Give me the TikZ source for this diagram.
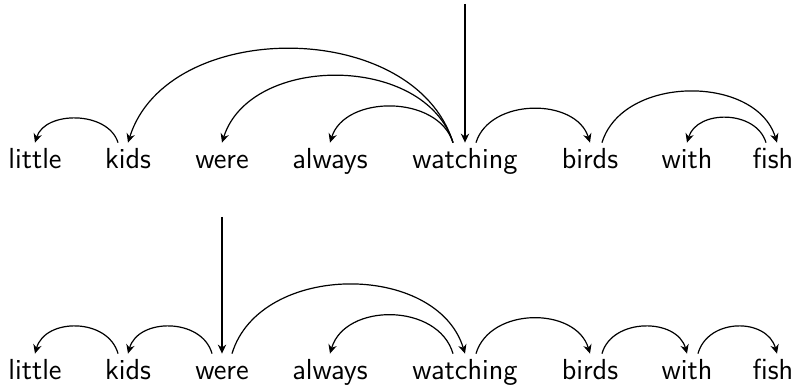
\documentclass[tikz,border=0pt]{standalone}
\usepackage{fontspec}
\usetikzlibrary{arrows.meta,calc}
\begin{document}
\begin{tikzpicture}[x=0.5pt,y=0.5pt,
  word/.style={font=\sffamily\fontsize{14.5}{17}\selectfont, anchor=base,
               inner sep=0pt, text height=13pt, text depth=3pt},
  dep/.style={line width=0.6pt, -{Stealth[length=4.5pt,width=4.2pt]}},
]
\useasboundingbox (0,0) rectangle (800,386);

% ---- upper parse ----
\node[word] (a1) at (35,217)  {little};
\node[word] (a2) at (128,217) {kids};
\node[word] (a3) at (222,217) {were};
\node[word] (a4) at (330,217) {always};
\node[word] (a5) at (465,217) {watching};
\node[word] (a6) at (590,217) {birds};
\node[word] (a7) at (687,217) {with};
\node[word] (a8) at (773,217) {fish};

\coordinate (aroot) at (465,382);
\draw[dep] (aroot) -- (a5.north);
\draw[dep] ($(a2.north)+(-10,0)$) .. controls +(-10,32) and +(10,32) .. (a1.north);
\draw[dep] ($(a5.north)+(-12,0)$) .. controls +(-39,125) and +(39,125) .. (a2.north);
\draw[dep] ($(a5.north)+(-12,0)$) .. controls +(-28,89) and +(28,89) .. (a3.north);
\draw[dep] ($(a5.north)+(-12,0)$) .. controls +(-15,48) and +(15,48) .. (a4.north);
\draw[dep] ($(a5.north)+(11,0)$) .. controls +(14,45) and +(-14,45) .. (a6.north);
\draw[dep] ($(a6.north)+(12,0)$) .. controls +(21,68) and +(-21,68) .. ($(a8.north)+(4,0)$);
\draw[dep] ($(a8.north)+(-7,0)$) .. controls +(-10,33) and +(10,33) .. (a7.north);

% ---- lower parse ----
\node[word] (b1) at (35,6)  {little};
\node[word] (b2) at (128,6) {kids};
\node[word] (b3) at (222,6) {were};
\node[word] (b4) at (330,6) {always};
\node[word] (b5) at (465,6) {watching};
\node[word] (b6) at (590,6) {birds};
\node[word] (b7) at (687,6) {with};
\node[word] (b8) at (773,6) {fish};

\coordinate (broot) at (222,169);
\draw[dep] (broot) -- (b3.north);
\draw[dep] ($(b2.north)+(-10,0)$) .. controls +(-10,36) and +(10,36) .. (b1.north);
\draw[dep] ($(b3.north)+(-10,0)$) .. controls +(-10,36) and +(10,36) .. (b2.north);
\draw[dep] ($(b3.north)+(10,0)$) .. controls +(28,92) and +(-28,92) .. (b5.north);
\draw[dep] ($(b5.north)+(-12,0)$) .. controls +(-15,51) and +(15,51) .. (b4.north);
\draw[dep] ($(b5.north)+(11,0)$) .. controls +(14,47) and +(-14,47) .. (b6.north);
\draw[dep] ($(b6.north)+(12,0)$) .. controls +(10,36) and +(-10,36) .. (b7.north);
\draw[dep] ($(b7.north)+(11,0)$) .. controls +(10,36) and +(-10,36) .. ($(b8.north)+(4,0)$);
\end{tikzpicture}
\end{document}
